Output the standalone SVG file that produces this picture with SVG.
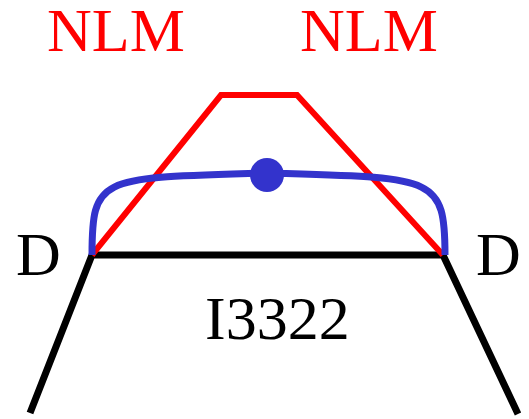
<svg xmlns="http://www.w3.org/2000/svg" width="529" height="419" viewBox="0 0 529 419">
<style>
.lbl{font-family:"Liberation Serif","Times New Roman",serif;font-size:62px}
.red{fill:#ff0000}
.blk{fill:#000000}
</style>
<rect width="529" height="419" fill="#ffffff"/>
<g id="connectors" fill="none" stroke-linejoin="miter">
<path d="M30,413 L92,255 L443,255 L518,414" stroke="#000000" stroke-width="7"/>
<path d="M92,255 L221,95 L297,95 L443,255" stroke="#ff0000" stroke-width="6"/>
<path d="M92,255 C92,175 100,178 267,173 C434,178 445,175 445,255" stroke="#3333cc" stroke-width="7"/>
</g>
<g id="node-dot"><circle cx="267" cy="175" r="17" fill="#3333cc"/></g>
<g id="label-nlm-left"><text class="lbl red" x="47" y="51">NLM</text></g>
<g id="label-nlm-right"><text class="lbl red" x="300" y="51">NLM</text></g>
<g id="label-d-left"><text class="lbl blk" x="16" y="275">D</text></g>
<g id="label-d-right"><text class="lbl blk" x="476" y="275">D</text></g>
<g id="label-i3322"><text class="lbl blk" x="205" y="339">I3322</text></g>
</svg>
